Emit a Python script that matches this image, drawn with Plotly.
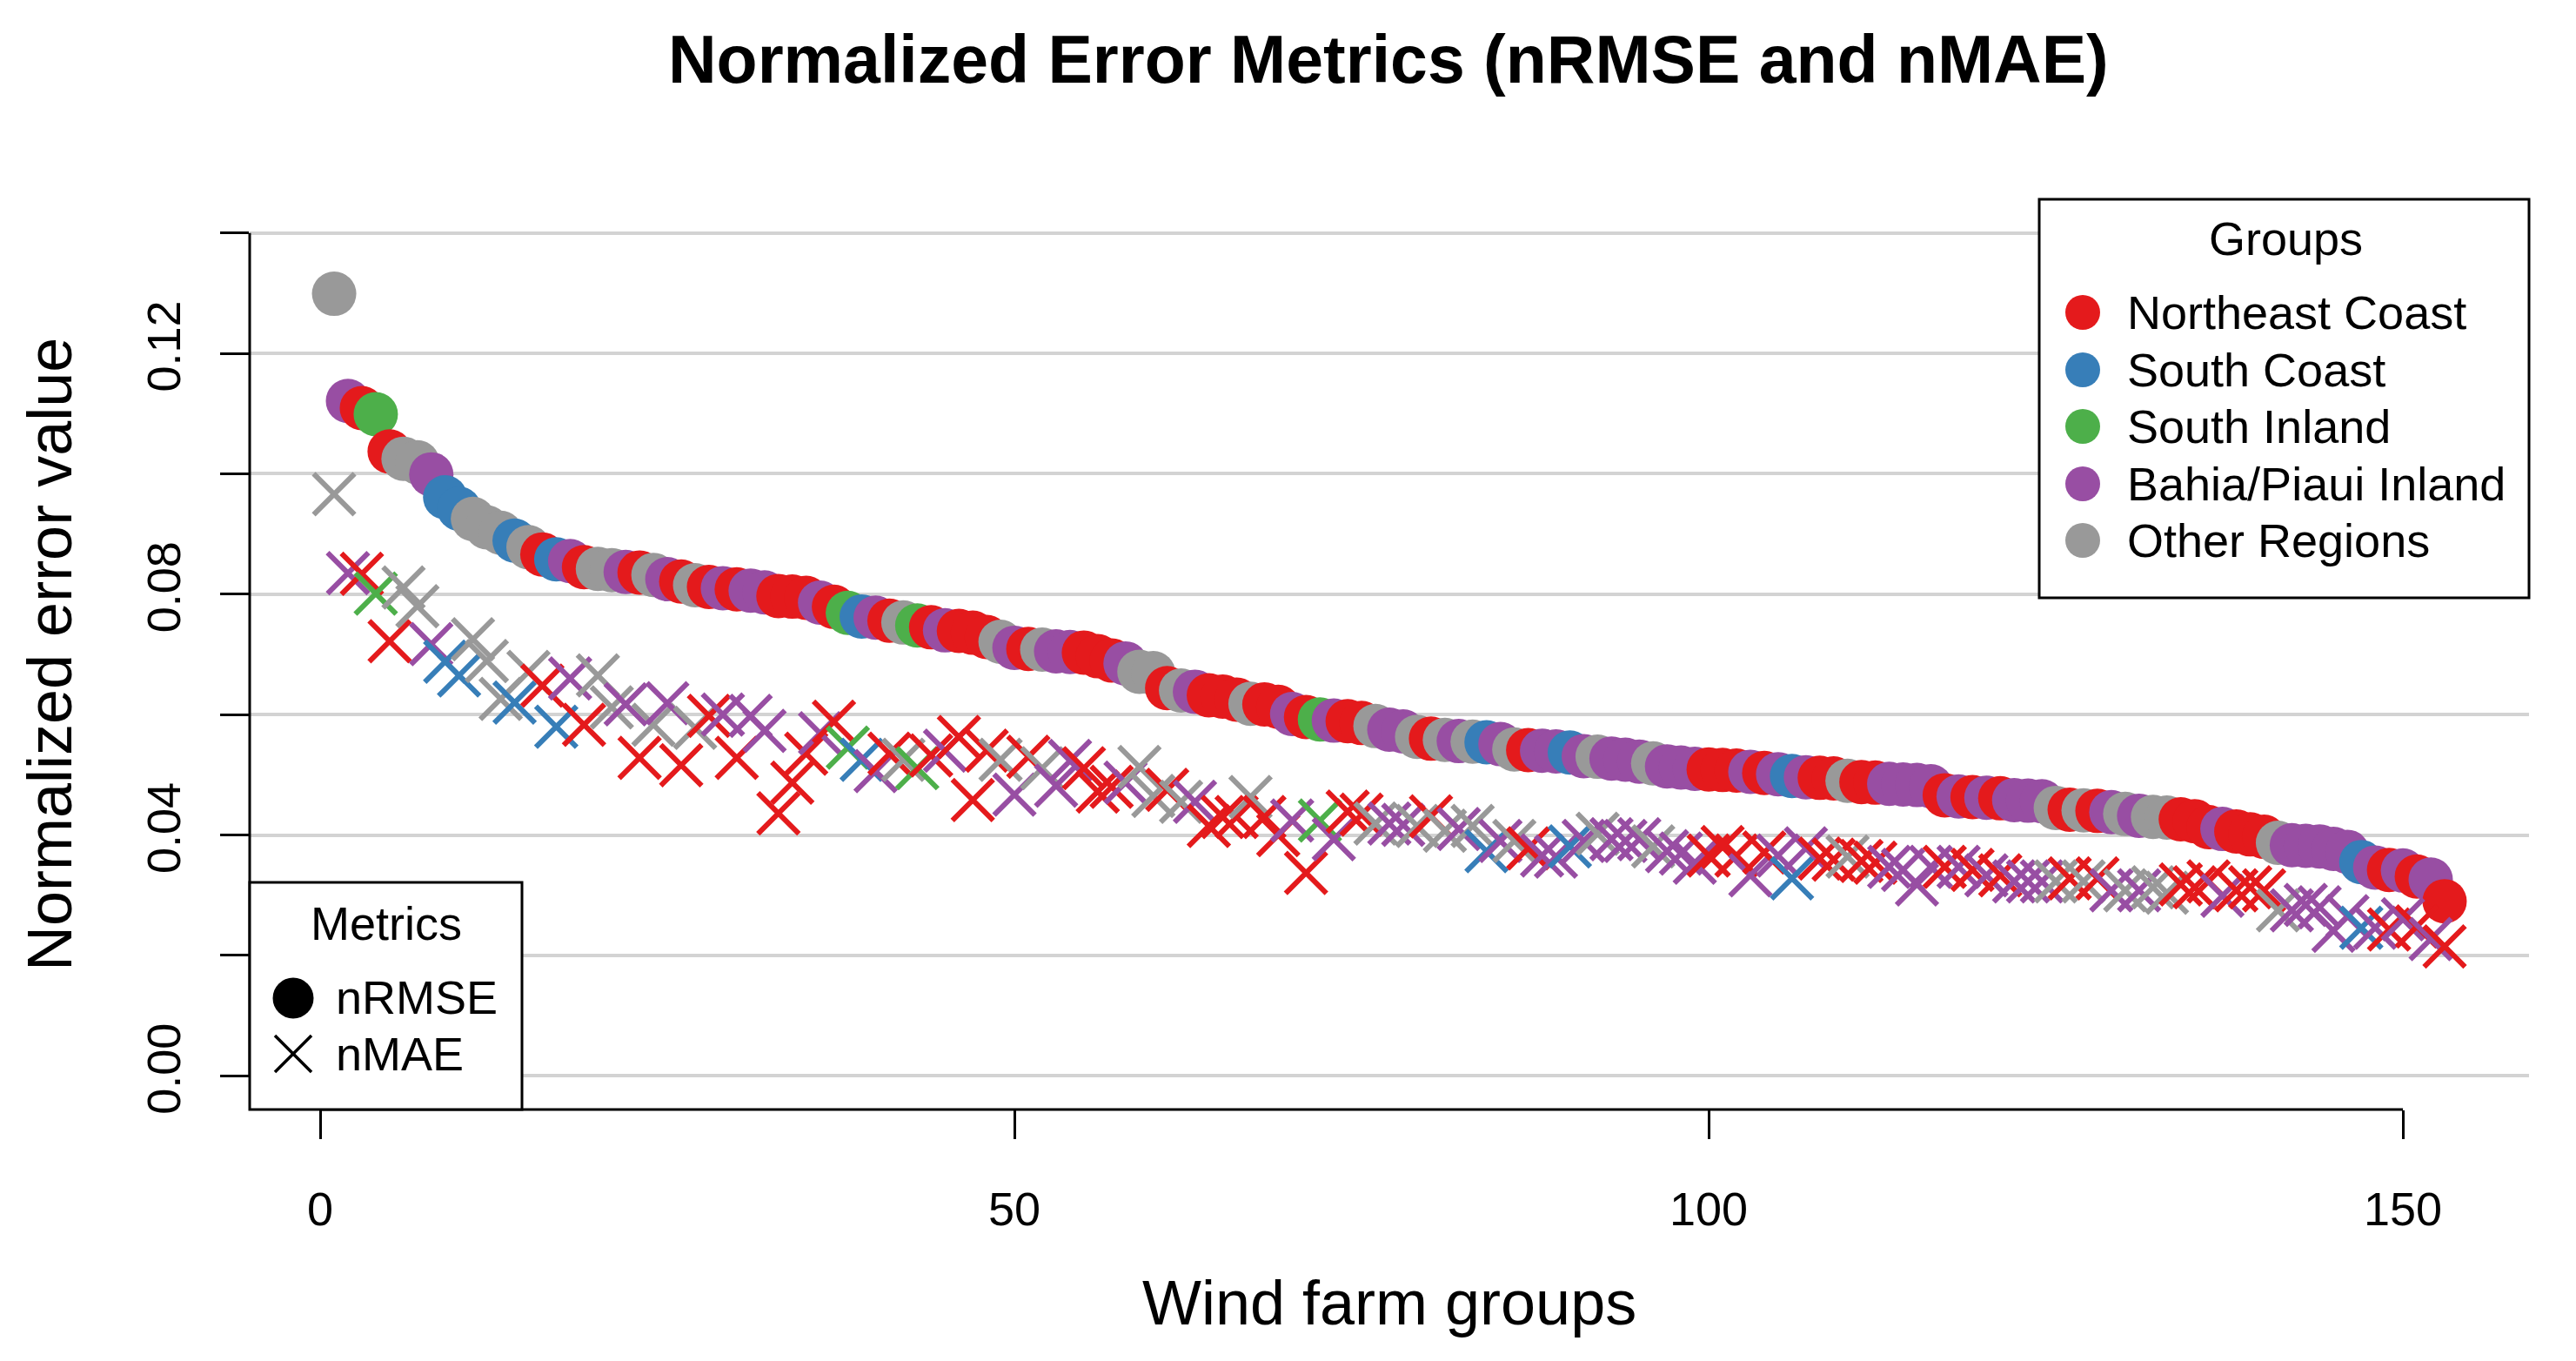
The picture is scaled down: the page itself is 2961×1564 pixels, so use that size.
import plotly.graph_objects as go

# ---------------- data ----------------
group_names = ["Northeast Coast", "South Coast", "South Inland", "Bahia/Piaui Inland", "Other Regions"]
group_codes = ["NE", "SC", "SI", "BP", "OR"]
group_colors = ["#E41A1C", "#377EB8", "#4DAF4A", "#984EA3", "#999999"]

farm_group = [
    "OR", "BP", "NE", "SI", "NE", "OR", "OR", "BP", "SC", "SC",
    "OR", "OR", "OR", "SC", "OR", "NE", "SC", "BP", "NE", "OR",
    "OR", "BP", "NE", "OR", "BP", "NE", "OR", "NE", "BP", "NE",
    "BP", "BP", "NE", "NE", "NE", "BP", "NE", "SI", "SC", "BP",
    "NE", "OR", "SI", "NE", "BP", "NE", "NE", "NE", "OR", "BP",
    "NE", "OR", "BP", "BP", "NE", "NE", "NE", "BP", "OR", "OR",
    "NE", "OR", "BP", "NE", "NE", "NE", "OR", "NE", "NE", "BP",
    "NE", "SI", "BP", "NE", "NE", "OR", "BP", "BP", "OR", "NE",
    "OR", "BP", "OR", "SC", "BP", "OR", "NE", "BP", "BP", "SC",
    "BP", "OR", "BP", "BP", "BP", "OR", "BP", "BP", "BP", "NE",
    "NE", "NE", "BP", "NE", "BP", "SC", "BP", "NE", "NE", "OR",
    "NE", "NE", "BP", "BP", "BP", "BP", "NE", "BP", "NE", "BP",
    "NE", "BP", "BP", "BP", "OR", "NE", "OR", "NE", "BP", "OR",
    "BP", "OR", "OR", "NE", "NE", "NE", "BP", "NE", "NE", "NE",
    "OR", "BP", "BP", "BP", "BP", "BP", "SC", "BP", "NE", "BP",
    "NE", "BP", "NE",
]

nrmse = [
    0.1299, 0.1121, 0.1109, 0.1099, 0.1037, 0.1025, 0.1019, 0.0999, 0.0961, 0.0942,
    0.0925, 0.0911, 0.0902, 0.0889, 0.0878, 0.0866, 0.0858, 0.0855, 0.0845, 0.0842,
    0.0840, 0.0837, 0.0836, 0.0832, 0.0825, 0.0821, 0.0815, 0.0812, 0.0810, 0.0808,
    0.0806, 0.0803, 0.0797, 0.0796, 0.0794, 0.0786, 0.0779, 0.0769, 0.0763, 0.0761,
    0.0756, 0.0753, 0.0748, 0.0745, 0.0740, 0.0739, 0.0736, 0.0729, 0.0721, 0.0711,
    0.0709, 0.0708, 0.0705, 0.0704, 0.0703, 0.0697, 0.0690, 0.0685, 0.0671, 0.0669,
    0.0644, 0.0640, 0.0638, 0.0632, 0.0630, 0.0625, 0.0618, 0.0617, 0.0613, 0.0601,
    0.0596, 0.0592, 0.0590, 0.0589, 0.0586, 0.0581, 0.0575, 0.0572, 0.0563, 0.0560,
    0.0558, 0.0556, 0.0555, 0.0554, 0.0551, 0.0542, 0.0541, 0.0540, 0.0539, 0.0537,
    0.0531, 0.0530, 0.0527, 0.0525, 0.0522, 0.0519, 0.0514, 0.0512, 0.0510, 0.0509,
    0.0508, 0.0507, 0.0505, 0.0503, 0.0501, 0.0498, 0.0496, 0.0495, 0.0494, 0.0490,
    0.0488, 0.0487, 0.0485, 0.0484, 0.0483, 0.0481, 0.0466, 0.0464, 0.0463, 0.0462,
    0.0461, 0.0458, 0.0457, 0.0456, 0.0445, 0.0442, 0.0441, 0.0440, 0.0438, 0.0435,
    0.0432, 0.0430, 0.0429, 0.0426, 0.0423, 0.0413, 0.0410, 0.0406, 0.0401, 0.0397,
    0.0387, 0.0383, 0.0382, 0.0381, 0.0377, 0.0372, 0.0355, 0.0346, 0.0342, 0.0341,
    0.0331, 0.0326, 0.0290,
]

nmae = [
    0.0966, 0.0835, 0.0834, 0.0801, 0.0722, 0.0811, 0.0780, 0.0717, 0.0688, 0.0665,
    0.0725, 0.0689, 0.0626, 0.0620, 0.0671, 0.0648, 0.0580, 0.0660, 0.0583, 0.0665,
    0.0612, 0.0617, 0.0528, 0.0583, 0.0619, 0.0516, 0.0578, 0.0598, 0.0600, 0.0528,
    0.0598, 0.0573, 0.0436, 0.0487, 0.0535, 0.0569, 0.0588, 0.0545, 0.0525, 0.0506,
    0.0535, 0.0525, 0.0511, 0.0532, 0.0540, 0.0563, 0.0458, 0.0540, 0.0525, 0.0467,
    0.0530, 0.0511, 0.0482, 0.0523, 0.0511, 0.0472, 0.0480, 0.0487, 0.0513, 0.0465,
    0.0475, 0.0455, 0.0455, 0.0415, 0.0430, 0.0430, 0.0463, 0.0430, 0.0400, 0.0424,
    0.0337, 0.0424, 0.0393, 0.0439, 0.0434, 0.0419, 0.0419, 0.0417, 0.0415, 0.0431,
    0.0407, 0.0410, 0.0415, 0.0373, 0.0390, 0.0390, 0.0378, 0.0366, 0.0364, 0.0381,
    0.0390, 0.0402, 0.0393, 0.0390, 0.0393, 0.0381, 0.0373, 0.0369, 0.0354, 0.0366,
    0.0380, 0.0366, 0.0333, 0.0371, 0.0366, 0.0328, 0.0378, 0.0361, 0.0359, 0.0364,
    0.0357, 0.0354, 0.0347, 0.0342, 0.0318, 0.0347, 0.0347, 0.0347, 0.0342, 0.0333,
    0.0333, 0.0323, 0.0323, 0.0323, 0.0323, 0.0328, 0.0323, 0.0328, 0.0308, 0.0308,
    0.0308, 0.0313, 0.0304, 0.0318, 0.0313, 0.0323, 0.0299, 0.0308, 0.0313, 0.0308,
    0.0275, 0.0275, 0.0284, 0.0280, 0.0241, 0.0265, 0.0246, 0.0246, 0.0243, 0.0260,
    0.0248, 0.0227, 0.0215,
]

x_ticks = [0, 50, 100, 150]
y_ticks = [0.00, 0.02, 0.04, 0.06, 0.08, 0.10, 0.12, 0.14]
y_tick_text = ["0.00", "", "0.04", "", "0.08", "", "0.12", ""]
metric_names = ["nRMSE", "nMAE"]

title_text = "Normalized Error Metrics (nRMSE and nMAE)"
x_title = "Wind farm groups"
y_title = "Normalized error value"

# ---------------- layout geometry (pixels) ----------------
W, H = 2961, 1564
PL, PW = 287, 2620
PT, PH = 229, 1046
PB = PT + PH
FONT = "Liberation Sans, Arial, Helvetica, sans-serif"

def px(X):
    return (X - PL) / PW

def py(Y):
    return (PB - Y) / PH

n = len(nrmse)
xs = list(range(1, n + 1))
code_color = dict(zip(group_codes, group_colors))
colors = [code_color[g] for g in farm_group]

fig = go.Figure()
fig.add_trace(go.Scatter(
    x=xs, y=nrmse, mode="markers", name="nRMSE", showlegend=False,
    marker=dict(symbol="circle", size=51, color=colors, line=dict(width=0)),
    hoverinfo="skip",
))
fig.add_trace(go.Scatter(
    x=xs, y=nmae, mode="markers", name="nMAE", showlegend=False,
    marker=dict(symbol="x-thin-open", size=47, color=colors,
                line=dict(width=6, color=colors)),
    hoverinfo="skip",
))

xmin = 1 - 0.04 * (n - 1)
xmax = n + 0.04 * (n - 1)
ymin, ymax = 0 - 0.04 * 0.14, 0.14 + 0.04 * 0.14

shapes = []
# axis lines (R style: only between extreme ticks)
shapes.append(dict(type="line", xref="paper", yref="y", x0=0, x1=0, y0=0, y1=0.14,
                   line=dict(color="black", width=3), layer="above"))
shapes.append(dict(type="line", xref="x", yref="paper", x0=0, x1=150, y0=0, y1=0,
                   line=dict(color="black", width=3), layer="above"))

annotations = []

# ---- Groups legend (top right) ----
shapes.append(dict(type="rect", xref="paper", yref="paper", x0=px(2344), x1=1.0,
                   y0=py(687), y1=1.0, fillcolor="white",
                   line=dict(color="black", width=3), layer="above"))
annotations.append(dict(text="Groups", xref="paper", yref="paper", x=px(2627), y=py(274),
                        xanchor="center", yanchor="middle", showarrow=False,
                        font=dict(family=FONT, size=54, color="black")))
g_rows = [359, 425, 490, 556, 621]
for name, col, yy in zip(group_names, group_colors, g_rows):
    r = 20
    shapes.append(dict(type="circle", xref="paper", yref="paper",
                       x0=px(2394 - r), x1=px(2394 + r), y0=py(yy + r), y1=py(yy - r),
                       fillcolor=col, line=dict(width=0), layer="above"))
    annotations.append(dict(text=name, xref="paper", yref="paper", x=px(2443), y=py(yy),
                            xanchor="left", yanchor="middle", showarrow=False,
                            font=dict(family=FONT, size=54, color="black")))

# ---- Metrics legend (bottom left) ----
shapes.append(dict(type="rect", xref="paper", yref="paper", x0=0.0, x1=px(600),
                   y0=0.0, y1=py(1014), fillcolor="white",
                   line=dict(color="black", width=3), layer="above"))
annotations.append(dict(text="Metrics", xref="paper", yref="paper", x=px(444), y=py(1061),
                        xanchor="center", yanchor="middle", showarrow=False,
                        font=dict(family=FONT, size=54, color="black")))
r = 23.5
shapes.append(dict(type="circle", xref="paper", yref="paper",
                   x0=px(337 - r), x1=px(337 + r), y0=py(1147 + r), y1=py(1147 - r),
                   fillcolor="black", line=dict(width=0), layer="above"))
h = 21
for (ax0, ay0, ax1, ay1) in [(337 - h, 1211 - h, 337 + h, 1211 + h), (337 - h, 1211 + h, 337 + h, 1211 - h)]:
    shapes.append(dict(type="line", xref="paper", yref="paper",
                       x0=px(ax0), y0=py(ay0), x1=px(ax1), y1=py(ay1),
                       line=dict(color="black", width=3.5), layer="above"))
for name, yy in zip(metric_names, [1146, 1211]):
    annotations.append(dict(text=name, xref="paper", yref="paper", x=px(384), y=py(yy),
                            xanchor="left", yanchor="middle", showarrow=False,
                            font=dict(family=FONT, size=54, color="black")))

# ---- titles ----
annotations.append(dict(text="<b>" + title_text + "</b>", xref="paper", yref="paper",
                        x=px(1596), y=py(68), xanchor="center", yanchor="middle",
                        showarrow=False, font=dict(family=FONT, size=77, color="black")))
annotations.append(dict(text=x_title, xref="paper", yref="paper",
                        x=px(1597), y=py(1497), xanchor="center", yanchor="middle",
                        showarrow=False, font=dict(family=FONT, size=72, color="black")))
annotations.append(dict(text=y_title, xref="paper", yref="paper",
                        x=px(57), y=py(752), xanchor="center", yanchor="middle",
                        textangle=-90, showarrow=False,
                        font=dict(family=FONT, size=72, color="black")))

fig.update_layout(
    width=W, height=H, autosize=False,
    margin=dict(l=PL, r=W - PL - PW, t=PT, b=H - PB, pad=0),
    paper_bgcolor="white", plot_bgcolor="white",
    showlegend=False,
    shapes=shapes, annotations=annotations,
    font=dict(family=FONT, color="black"),
)
fig.update_xaxes(
    range=[xmin, xmax], tickmode="array", tickvals=x_ticks,
    ticktext=[str(v) for v in x_ticks],
    showgrid=False, zeroline=False, showline=False,
    ticks="outside", ticklen=33, tickwidth=3, tickcolor="black",
    tickfont=dict(family=FONT, size=54, color="black"),
    ticklabelstandoff=34,
)
fig.update_yaxes(
    range=[ymin, ymax], tickmode="array", tickvals=y_ticks, ticktext=y_tick_text,
    showgrid=True, gridcolor="#D3D3D3", gridwidth=4,
    zeroline=False, showline=False,
    ticks="outside", ticklen=33, tickwidth=3, tickcolor="black",
    tickangle=-90,
    tickfont=dict(family=FONT, size=54, color="black"),
    ticklabelstandoff=24,
)

fig.write_html("out.html", config={"displayModeBar": False},
               post_script="document.body.style.margin='0';document.body.style.overflow='hidden';")
